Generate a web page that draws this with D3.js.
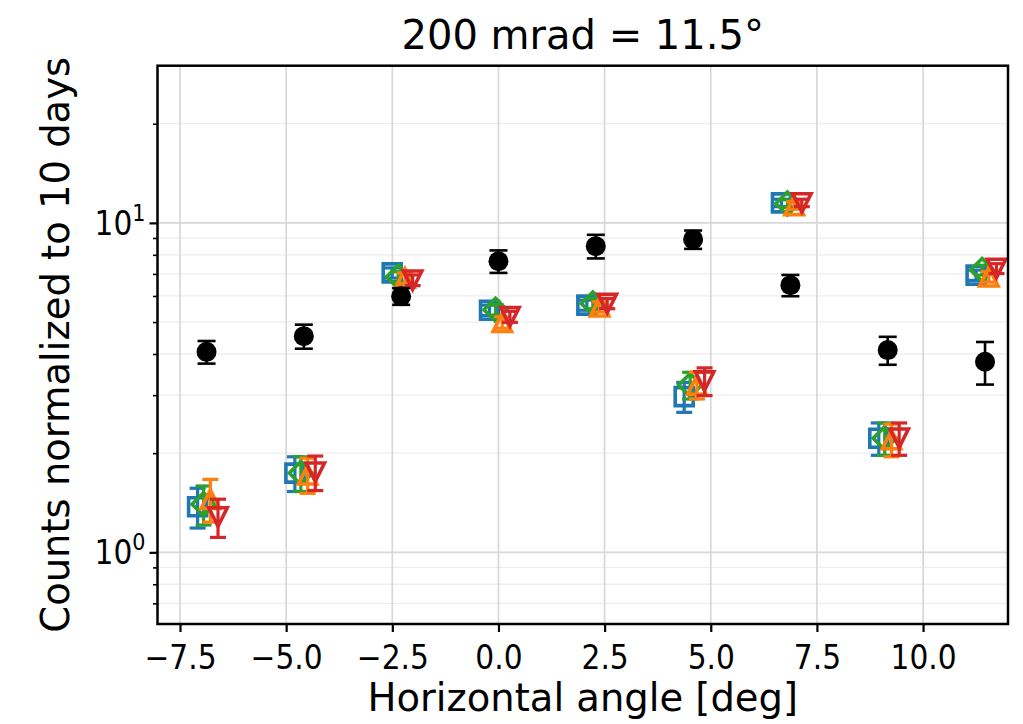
<!DOCTYPE html>
<html>
<head>
<meta charset="utf-8">
<script src="https://cdn.jsdelivr.net/npm/d3@7"></script>
<style>
  html, body { margin: 0; padding: 0; background: #fff; }
  svg { display: block; font-family: "DejaVu Sans", sans-serif; }
</style>
</head>
<body>
<svg id="chart" width="1023" height="724"></svg>
<script>
// Horizontal scan angles (deg), -120 .. 200 mrad in 40 mrad steps
const angles = [-6.875, -4.584, -2.292, 0, 2.292, 4.584, 6.875, 9.167, 11.459];

// Measured counts (black) and their errors
const measured    = [4.06, 4.53, 5.99, 7.65, 8.50, 8.91, 6.47, 4.11, 3.79];
const measuredErr = [0.32, 0.38, 0.35, 0.60, 0.70, 0.57, 0.48, 0.40, 0.56];

// Model curves
const modelA    = [1.375, 1.74, 7.05, 5.43, 5.63, 2.97, 11.5, 2.22, 6.94];
const modelAErr = [0.19, 0.21, 0.25, 0.20, 0.20, 0.31, 0.30, 0.25, 0.25];
const modelB    = [1.40, 1.74, 6.86, 5.45, 5.69, 3.22, 11.45, 2.22, 7.19];
const modelBErr = [0.19, 0.21, 0.25, 0.20, 0.20, 0.30, 0.30, 0.25, 0.25];
const modelC    = [1.45, 1.72, 6.80, 4.99, 5.56, 3.22, 11.3, 2.20, 6.86];
const modelCErr = [0.215, 0.21, 0.25, 0.20, 0.20, 0.30, 0.30, 0.25, 0.25];
const modelD    = [1.28, 1.75, 6.70, 5.19, 5.69, 3.31, 11.5, 2.22, 7.27];
const modelDErr = [0.17, 0.21, 0.25, 0.20, 0.20, 0.32, 0.30, 0.25, 0.25];

// Small horizontal shifts so overlapping models stay readable
const modelShift = [-0.21, -0.07, 0.09, 0.27];

const xTicks = [-7.5, -5.0, -2.5, 0.0, 2.5, 5.0, 7.5, 10.0];
const yMajorTicks = [1, 10];
const yMinorTicks = [0.7, 0.8, 0.9, 2, 3, 4, 5, 6, 7, 8, 9, 20, 30];

const titleText = "200 mrad = 11.5°";
const xLabel = "Horizontal angle [deg]";
const yLabel = "Counts normalized to 10 days";

const W = 1023, H = 724;
const margin = { left: 157.5, top: 65.7, right: 15, bottom: 100 };
const svg = d3.select("#chart");

const x = d3.scaleLinear().domain([-8.03, 12.0]).range([margin.left, W - margin.right]);
const y = d3.scaleLog().domain([0.606, 30]).range([H - margin.bottom, margin.top]);

const x0 = x.range()[0], x1 = x.range()[1];
const y0 = y.range()[0], y1 = y.range()[1];

// Grid
const grid = svg.append("g");
grid.selectAll(".ymin").data(yMinorTicks.filter(v => v < 30)).enter().append("line")
  .attr("x1", x0).attr("x2", x1).attr("y1", d => y(d)).attr("y2", d => y(d))
  .attr("stroke", "#eeeeee").attr("stroke-width", 1.3);
grid.selectAll(".ymaj").data(yMajorTicks).enter().append("line")
  .attr("x1", x0).attr("x2", x1).attr("y1", d => y(d)).attr("y2", d => y(d))
  .attr("stroke", "#d8d8d8").attr("stroke-width", 1.7);
grid.selectAll(".xmaj").data(xTicks).enter().append("line")
  .attr("y1", y0).attr("y2", y1).attr("x1", d => x(d)).attr("x2", d => x(d))
  .attr("stroke", "#d8d8d8").attr("stroke-width", 1.7);

// Marker shapes
function markerPath(kind) {
  const p = d3.path();
  if (kind === "square") {
    const s = 9; p.rect(-s, -s, 2 * s, 2 * s);
  } else if (kind === "diamond") {
    const s = 11.5; p.moveTo(0, -s); p.lineTo(s, 0); p.lineTo(0, s); p.lineTo(-s, 0); p.closePath();
  } else if (kind === "up") {
    const s = 9.2; p.moveTo(0, -s); p.lineTo(s, s); p.lineTo(-s, s); p.closePath();
  } else if (kind === "down") {
    const s = 9.2; p.moveTo(0, s); p.lineTo(s, -s); p.lineTo(-s, -s); p.closePath();
  }
  return p.toString();
}

const plot = svg.append("g");

function drawSeries(values, errs, shift, color, kind, capHalf, lw) {
  const g = plot.append("g");
  const pts = values.map((v, i) => ({ x: angles[i] + shift, v: v, e: errs[i] }));
  const eb = g.selectAll(".eb").data(pts).enter().append("g")
    .attr("stroke", color).attr("stroke-width", lw).attr("fill", "none");
  eb.append("line").attr("x1", d => x(d.x)).attr("x2", d => x(d.x))
    .attr("y1", d => y(d.v - d.e)).attr("y2", d => y(d.v + d.e));
  eb.append("line").attr("x1", d => x(d.x) - capHalf).attr("x2", d => x(d.x) + capHalf)
    .attr("y1", d => y(d.v - d.e)).attr("y2", d => y(d.v - d.e));
  eb.append("line").attr("x1", d => x(d.x) - capHalf).attr("x2", d => x(d.x) + capHalf)
    .attr("y1", d => y(d.v + d.e)).attr("y2", d => y(d.v + d.e));
  if (kind === "circle") {
    g.selectAll(".m").data(pts).enter().append("circle")
      .attr("cx", d => x(d.x)).attr("cy", d => y(d.v)).attr("r", 10)
      .attr("fill", color);
  } else {
    g.selectAll(".m").data(pts).enter().append("path")
      .attr("d", markerPath(kind))
      .attr("transform", d => `translate(${x(d.x)},${y(d.v)})`)
      .attr("fill", "none").attr("stroke", color).attr("stroke-width", 3.6)
      .attr("stroke-linejoin", "miter");
  }
}

drawSeries(modelA, modelAErr, modelShift[0], "#1f77b4", "square", 8, 3.2);
drawSeries(modelB, modelBErr, modelShift[1], "#2ca02c", "diamond", 8, 3.2);
drawSeries(modelC, modelCErr, modelShift[2], "#ff7f0e", "up", 8, 3.2);
drawSeries(modelD, modelDErr, modelShift[3], "#d62728", "down", 8, 3.2);
drawSeries(measured, measuredErr, 0, "#000000", "circle", 9, 2.6);

// Axes frame
svg.append("rect").attr("x", x0).attr("y", y1).attr("width", x1 - x0).attr("height", y0 - y1)
  .attr("fill", "none").attr("stroke", "#000").attr("stroke-width", 2.5);

// X ticks
const xAxis = d3.axisBottom(x).tickValues(xTicks).tickSizeInner(8).tickSizeOuter(0)
  .tickPadding(8).tickFormat(d => d3.format(".1f")(d).replace("-", "\u2212"));
const gx = svg.append("g").attr("transform", `translate(0,${y0})`).call(xAxis);
gx.select(".domain").remove();
gx.selectAll(".tick line").attr("stroke", "#000").attr("stroke-width", 2.2);
gx.selectAll(".tick text").attr("font-size", 33).attr("fill", "#000")
  .attr("font-family", "DejaVu Sans").attr("y", 45).attr("dy", null)
  .attr("transform", "scale(0.9,1)");

// Y ticks (major + minor)
const yAxis = d3.axisLeft(y).tickValues(yMajorTicks).tickSizeInner(8).tickSizeOuter(0)
  .tickPadding(10).tickFormat(() => "");
const gy = svg.append("g").attr("transform", `translate(${x0},0)`).call(yAxis);
gy.select(".domain").remove();
gy.selectAll(".tick line").attr("stroke", "#000").attr("stroke-width", 2.2);
gy.selectAll(".tick text").each(function (d) {
  const t = d3.select(this).attr("font-size", 33).attr("fill", "#000")
    .attr("font-family", "DejaVu Sans").attr("dy", "0.34em")
    .attr("transform", "translate(-12,0) scale(0.9,1)").attr("x", 0);
  t.append("tspan").text("10");
  t.append("tspan").attr("font-size", 23).attr("dy", "-0.6em").text(String(Math.round(Math.log10(d))));
});
const yMinorAxis = d3.axisLeft(y).tickValues(yMinorTicks.filter(v => v < 30)).tickSizeInner(4.5)
  .tickSizeOuter(0).tickFormat(() => "");
const gym = svg.append("g").attr("transform", `translate(${x0},0)`).call(yMinorAxis);
gym.select(".domain").remove();
gym.selectAll(".tick line").attr("stroke", "#000").attr("stroke-width", 1.6);

// Labels
svg.append("text").attr("x", (x0 + x1) / 2).attr("y", 49).attr("text-anchor", "middle")
  .attr("font-size", 40).attr("fill", "#000").text(titleText);
svg.append("text").attr("x", (x0 + x1) / 2).attr("y", 711).attr("text-anchor", "middle")
  .attr("font-size", 38.5).attr("fill", "#000").text(xLabel);
svg.append("text").attr("transform", `translate(69,${(y0 + y1) / 2}) rotate(-90)`)
  .attr("text-anchor", "middle").attr("font-size", 38.5).attr("fill", "#000").text(yLabel);
</script>
</body>
</html>
